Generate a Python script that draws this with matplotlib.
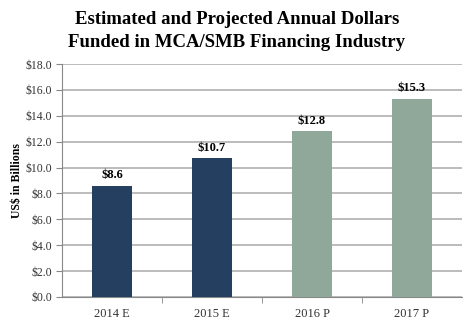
import matplotlib.pyplot as plt
import numpy as np

# Data
years = ['2014 E', '2015 E', '2016 P', '2017 P']
funded = [8.6, 10.7, 12.8, 15.3]
colors = ['#243F60', '#243F60', '#8FA89A', '#8FA89A']

plt.rcParams['font.family'] = 'Liberation Serif'

fig = plt.figure(figsize=(4.74, 3.23), dpi=100)
ax = fig.add_axes([62 / 474, 26 / 323, 400 / 474, 233 / 323])

x = np.arange(len(years))
bars = ax.bar(x, funded, width=0.4, color=colors, zorder=3)

for xi, v in zip(x, funded):
    ax.text(xi, v + 0.35, '$%.1f' % v, ha='center', va='bottom',
            fontsize=9, fontweight='bold')

ax.set_xlim(-0.5, len(years) - 0.5)
ax.set_ylim(0, 18)
ax.set_yticks(np.arange(0, 18.1, 2))
ax.set_yticklabels(['$%.1f' % t for t in np.arange(0, 18.1, 2)], fontsize=8.5,
                   color='#333333')
ax.set_xticks(x)
ax.set_xticklabels(years, fontsize=9, color='#333333')
ax.set_xticks(np.arange(0.5, len(years) - 0.5, 1), minor=True)
ax.tick_params(axis='x', which='major', length=0, pad=8)
ax.tick_params(axis='x', which='minor', length=4, color='#888888')
ax.tick_params(axis='y', length=4, color='#888888', pad=3)

ax.grid(axis='y', color='#AAAAAA', linewidth=1.1, zorder=0)
for side in ['top', 'right']:
    ax.spines[side].set_visible(False)
ax.spines['left'].set_color('#888888')
ax.spines['bottom'].set_color('#888888')

ax.set_ylabel('US$ in Billions', fontsize=8.5, fontweight='bold', labelpad=2)

fig.suptitle('Estimated and Projected Annual Dollars\nFunded in MCA/SMB Financing Industry',
             y=0.965, fontsize=13.5, fontweight='bold', linespacing=1.45)

plt.savefig('out.png', dpi=100)
